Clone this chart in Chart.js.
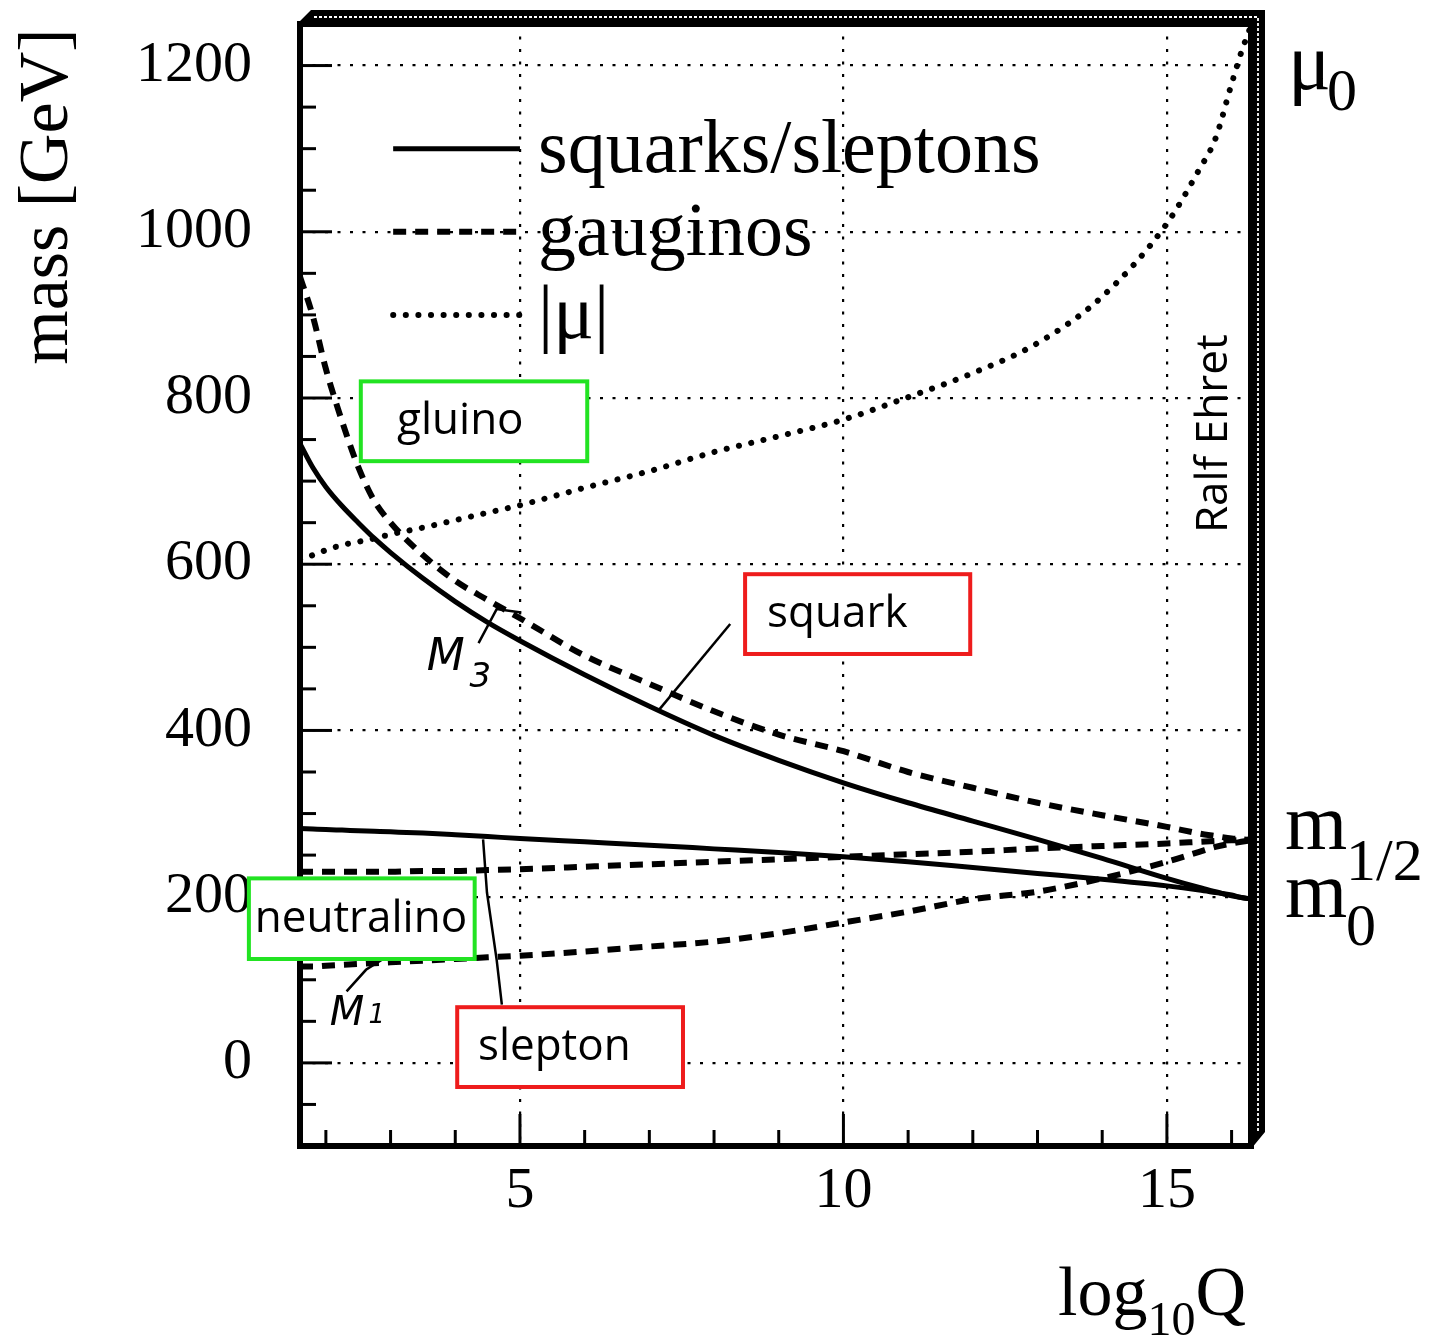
<!DOCTYPE html>
<html><head><meta charset="utf-8">
<script src="https://cdn.jsdelivr.net/npm/chart.js@4.4.1/dist/chart.umd.min.js"></script>
<style>html,body{margin:0;padding:0;background:#fff}canvas{display:block}</style>
</head><body>
<canvas id="c" width="1429" height="1339"></canvas>
<script>
// ---- data ----
const logQ       = [1.6,1.8,2.0,2.25,2.5,2.75,3.0,3.5,4.0,4.5,5,6,7,8,9,10,11,12,13,14,15,15.5,15.75,16,16.15,16.3];
const squarkMass = [745,716,693,670,650,631,614,583,555,530,508,467,429,394,364,337,313,291,269,246,222,211,206,201,199,197];
const sleptonMass= [282,281.4,280.8,280.1,279.4,278.7,278,276.5,274.5,272.3,270,266,262,257.5,253,248,242,235,228,221,213,208,205,202,199,197];
const gluinoM3   = [946,898,835,772,717,676,650,611,580,557,535,490,456,423,395,375,350,331,313,298,284,276,273,270,269,268];
const winoM2     = [230,230,230,230,230,230,230,231,231,232,233,236,239,242,245,248,251,254,258,261,264,266,267,268,268,269];
const binoM1     = [116,116,117,118,119,120,121,123,125,127,129,134,140,146,156,169,182,197,206,222,242,254,260,264,266,268];
const muAbs      = [606,611,617,623,627,631,636,644,653,662,671,692,712,735,754,774,801,830,866,922,1010,1075,1112,1178,1216,1248];

const xTickLabels = [5,10,15];
const yTickLabels = [0,200,400,600,800,1000,1200];
const legendLabels = ['squarks/sleptons','gauginos','|μ|'];

// ---- annotations (data units) ----
const legendRowsY = [1100,1000,900];
const legendLineX = [3.04,5.0];
const legendTextX = 5.28;
const boxes = [
  {text:'gluino',     color:'#22e322', x0:2.54, x1:6.04,  y0:724, y1:820, tx:3.10, ty:772},
  {text:'squark',     color:'#ee1c1c', x0:8.48, x1:11.96, y0:492, y1:588, tx:8.82, ty:540},
  {text:'neutralino', color:'#22e322', x0:0.81, x1:4.30,  y0:125, y1:222, tx:0.90, ty:173},
  {text:'slepton',    color:'#ee1c1c', x0:4.03, x1:7.52,  y0:-29, y1:67,  tx:4.35, ty:19}
];
const pointers = [
  [[7.13,423],[8.25,528]],
  [[4.43,269],[4.49,205],[4.64,124],[4.72,70]],
  [[4.36,505],[4.64,546],[5.02,542]],
  [[2.32,86],[2.62,112],[2.86,124]]
];

const pts = ys => logQ.map((x,i)=>({x, y: ys[i]}));
const solid  = {borderColor:'#000', borderWidth:5, borderDash:[], pointRadius:0, cubicInterpolationMode:'monotone', fill:false};
const dashed = {borderColor:'#000', borderWidth:6, borderDash:[13,9], pointRadius:0, cubicInterpolationMode:'monotone', fill:false};
const dotted = {borderColor:'#000', borderWidth:6, borderDash:[0.1,12.5], borderCapStyle:'round', pointRadius:0, cubicInterpolationMode:'monotone', fill:false};

const datasets = [
  Object.assign({label:'squark', data:pts(squarkMass)}, solid),
  Object.assign({label:'slepton', data:pts(sleptonMass)}, solid),
  Object.assign({label:'M3', data:pts(gluinoM3)}, dashed),
  Object.assign({label:'M2', data:pts(winoM2)}, dashed),
  Object.assign({label:'M1', data:pts(binoM1)}, dashed),
  Object.assign({label:'|mu|', data:pts(muAbs)}, dotted)
];
const legendStyles = [solid, dashed, dotted];

const SERIF = '"Liberation Serif", "Times New Roman", serif';
const HAND = '"Open Sans", "Noto Sans", sans-serif';

const decor = {
  id:'decor',
  beforeDraw(chart){
    const c=chart.ctx; c.save(); c.fillStyle='#fff'; c.fillRect(0,0,chart.width,chart.height); c.restore();
  },
  afterDraw(chart){
    const ctx=chart.ctx, a=chart.chartArea, xs=chart.scales.x, ys=chart.scales.y;
    const X=v=>xs.getPixelForValue(v), Y=v=>ys.getPixelForValue(v);
    const L=a.left, R=a.right, T=a.top, B=a.bottom, d=14;
    ctx.save();
    // 3D frame band (black with thin white wavy line)
    ctx.fillStyle='#000';
    ctx.beginPath(); ctx.moveTo(L-3,T); ctx.lineTo(L+d-3,T-d); ctx.lineTo(R+d,T-d); ctx.lineTo(R+d,B-d); ctx.lineTo(R,B+3); ctx.lineTo(R,T); ctx.closePath(); ctx.fill();
    ctx.strokeStyle='#fff'; ctx.lineWidth=1.8; ctx.setLineDash([3,2]);
    ctx.beginPath(); ctx.moveTo(L+d, T-d/2); ctx.lineTo(R+d/2, T-d/2); ctx.lineTo(R+d/2, B-d); ctx.stroke();
    ctx.setLineDash([]);
    ctx.strokeStyle='#000'; ctx.lineWidth=6; ctx.strokeRect(L,T,R-L,B-T);
    // inward ticks
    ctx.lineWidth=3;
    for(let v=Math.ceil(xs.min); v<=Math.floor(xs.max); v++){
      const len = v%5===0?32:16; const p=X(v);
      ctx.beginPath(); ctx.moveTo(p,B); ctx.lineTo(p,B-len); ctx.stroke();
    }
    for(let v=Math.ceil(ys.min/50)*50+50; v<ys.max; v+=50){
      const len = v%200===0?32:16; const p=Y(v);
      ctx.beginPath(); ctx.moveTo(L,p); ctx.lineTo(L+len,p); ctx.stroke();
    }
    // legend
    legendLabels.forEach((lab,i)=>{
      const st=legendStyles[i], yy=Y(legendRowsY[i]);
      ctx.save();
      ctx.strokeStyle='#000'; ctx.lineWidth=st.borderWidth; ctx.setLineDash(st.borderDash); ctx.lineCap=st.borderCapStyle||'butt';
      ctx.beginPath(); ctx.moveTo(X(legendLineX[0]),yy); ctx.lineTo(X(legendLineX[1]),yy); ctx.stroke();
      ctx.restore();
      ctx.fillStyle='#000'; ctx.font='76px '+SERIF; ctx.textAlign='left'; ctx.textBaseline='alphabetic';
      ctx.fillText(lab, X(legendTextX), yy+23);
    });
    // pointer lines
    ctx.strokeStyle='#000'; ctx.lineWidth=2.5; ctx.setLineDash([]);
    pointers.forEach(pl=>{ ctx.beginPath(); pl.forEach((p,j)=>{ j?ctx.lineTo(X(p[0]),Y(p[1])):ctx.moveTo(X(p[0]),Y(p[1])); }); ctx.stroke(); });
    // handwritten M3 / M1
    ctx.fillStyle='#000'; ctx.textBaseline='alphabetic'; ctx.textAlign='left';
    ctx.font='italic 44px "DejaVu Sans", sans-serif'; ctx.fillText('M', X(3.56), Y(473));
    ctx.font='italic 34px "DejaVu Sans", sans-serif'; ctx.fillText('3', X(4.22), Y(452));
    ctx.font='italic 40px "DejaVu Sans", sans-serif'; ctx.fillText('M', X(2.06), Y(46));
    ctx.font='italic 26px "DejaVu Sans", sans-serif'; ctx.fillText('1', X(2.66), Y(48));
    // boxes
    boxes.forEach(b=>{
      const x0=X(b.x0), x1=X(b.x1), y0=Y(b.y1), y1=Y(b.y0);
      ctx.fillStyle='#fff'; ctx.fillRect(x0,y0,x1-x0,y1-y0);
      ctx.strokeStyle=b.color; ctx.lineWidth=4; ctx.strokeRect(x0,y0,x1-x0,y1-y0);
      ctx.fillStyle='#000'; ctx.font='44px '+HAND; ctx.textAlign='left'; ctx.textBaseline='middle';
      ctx.fillText(b.text, X(b.tx), Y(b.ty));
    });
    // Ralf Ehret
    ctx.save(); ctx.translate(X(15.74), Y(757)); ctx.rotate(-Math.PI/2);
    ctx.font='44px '+HAND; ctx.textAlign='center'; ctx.textBaseline='middle'; ctx.fillStyle='#000';
    ctx.fillText('Ralf Ehret',0,0); ctx.restore();
    // right side labels
    ctx.textAlign='left'; ctx.textBaseline='alphabetic'; ctx.fillStyle='#000';
    const rx = R+34;
    ctx.font='80px '+SERIF; ctx.fillText('μ', rx+3, Y(1172));
    ctx.font='60px '+SERIF; ctx.fillText('0', rx+42, Y(1147));
    ctx.font='80px '+SERIF; ctx.fillText('m', rx, Y(257));
    ctx.font='60px '+SERIF; ctx.fillText('1/2', rx+61, Y(220));
    ctx.font='80px '+SERIF; ctx.fillText('m', rx, Y(175));
    ctx.font='60px '+SERIF; ctx.fillText('0', rx+61, Y(142));
    // axis titles
    ctx.save(); ctx.translate(67, Y(840)); ctx.rotate(-Math.PI/2);
    ctx.font='70px '+SERIF; ctx.textAlign='left'; ctx.fillText('mass [GeV]',0,0); ctx.restore();
    ctx.font='70px '+SERIF; ctx.textAlign='left';
    const bx=1058, by=1315;
    ctx.fillText('log', bx, by); const w1=ctx.measureText('log').width;
    ctx.font='48px '+SERIF; ctx.fillText('10', bx+w1, by+20); const w2=ctx.measureText('10').width;
    ctx.font='70px '+SERIF; ctx.fillText('Q', bx+w1+w2, by);
    ctx.restore();
  }
};

new Chart(document.getElementById('c'), {
  type:'line',
  data:{datasets},
  options:{
    responsive:false, animation:false, devicePixelRatio:1,
    layout:{padding:{top:24,right:178,left:0,bottom:0}},
    plugins:{legend:{display:false}, tooltip:{enabled:false}},
    scales:{
      x:{type:'linear', min:1.6, max:16.3,
        afterFit(s){ s.height=193; s.paddingLeft=0; s.paddingRight=0; },
        border:{display:false, dash:[3,9.5]},
        grid:{drawTicks:false, lineWidth:2.2, color:c=>xTickLabels.includes(c.tick.value)?'#000':'rgba(0,0,0,0)'},
        ticks:{stepSize:1, autoSkip:false, maxRotation:0, maxTicksLimit:100, padding:11, color:'#000',
          font:{family:SERIF, size:58}, callback:v=>xTickLabels.includes(v)?String(v):''}
      },
      y:{type:'linear', min:-100, max:1250,
        afterFit(s){ s.width=300; s.paddingTop=0; s.paddingBottom=0; },
        border:{display:false, dash:[3,9.5]},
        grid:{drawTicks:false, lineWidth:2.2, color:c=>yTickLabels.includes(c.tick.value)?'#000':'rgba(0,0,0,0)'},
        ticks:{stepSize:50, autoSkip:false, maxTicksLimit:100, padding:48, color:'#000',
          font:{family:SERIF, size:58}, callback:v=>yTickLabels.includes(v)?String(v):''}
      }
    }
  },
  plugins:[decor]
});
</script>
</body></html>
